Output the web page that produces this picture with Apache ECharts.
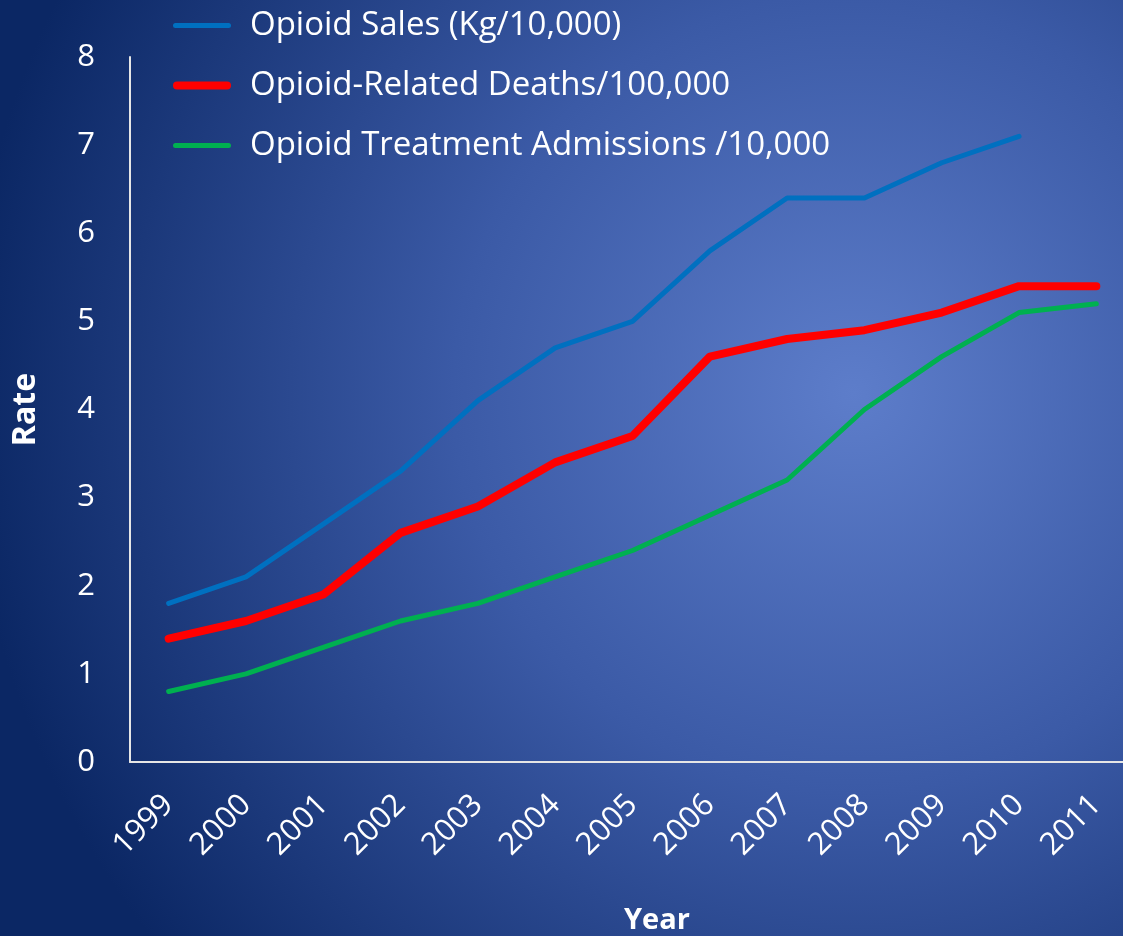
<!DOCTYPE html>
<html>
<head>
<meta charset="utf-8">
<script src="https://cdn.jsdelivr.net/npm/echarts@6/dist/echarts.min.js"></script>
<style>
html,body{margin:0;padding:0;width:1123px;height:936px;overflow:hidden;}
#chart{width:1123px;height:936px;}
</style>
</head>
<body>
<div id="chart"></div>
<script>
var years = ['1999','2000','2001','2002','2003','2004','2005','2006','2007','2008','2009','2010','2011'];
var salesName = 'Opioid Sales (Kg/10,000)';
var deathsName = 'Opioid-Related Deaths/100,000';
var admissionsName = 'Opioid Treatment Admissions /10,000';
var sales = [1.8, 2.1, 2.7, 3.3, 4.1, 4.7, 5.0, 5.8, 6.4, 6.4, 6.8, 7.1, null];
var deaths = [1.4, 1.6, 1.9, 2.6, 2.9, 3.4, 3.7, 4.6, 4.8, 4.9, 5.1, 5.4, 5.4];
var admissions = [0.8, 1.0, 1.3, 1.6, 1.8, 2.1, 2.4, 2.8, 3.2, 4.0, 4.6, 5.1, 5.2];
var yTicks = [0, 1, 2, 3, 4, 5, 6, 7, 8];

var FONT = '"Open Sans", "Noto Sans", sans-serif';
var thinIcon = 'path://M2.5,0 H55.5 A2.5,2.5 0 0 1 55.5,5 H2.5 A2.5,2.5 0 0 1 2.5,0 Z';
var thickIcon = 'path://M4,0 H54 A4,4 0 0 1 54,8 H4 A4,4 0 0 1 4,0 Z';
var chart = echarts.init(document.getElementById('chart'), null, {renderer: 'canvas'});
chart.setOption({
  backgroundColor: {
    type: 'radial', x: 0.76, y: 0.42, r: 0.95,
    colorStops: [
      {offset: 0, color: '#5d7dca'},
      {offset: 0.45, color: '#3b5aa6'},
      {offset: 1, color: '#0b2764'}
    ]
  },
  animation: false,
  textStyle: {fontFamily: FONT, color: '#ffffff'},
  title: {
    text: 'Year', left: 619, top: 901,
    textStyle: {color: '#ffffff', fontSize: 29, fontWeight: 'bold', fontFamily: FONT}
  },
  legend: {
    orient: 'vertical', left: 168, top: 4,
    itemWidth: 58, itemHeight: 10, itemGap: 27, symbolKeepAspect: true,
    textStyle: {color: '#ffffff', fontSize: 33, lineHeight: 30, fontFamily: FONT, padding: [0, 0, 0, 14]},
    data: [
      {name: salesName, icon: thinIcon, itemStyle: {color: '#0070c0'}},
      {name: deathsName, icon: thickIcon, itemStyle: {color: '#ff0000'}},
      {name: admissionsName, icon: thinIcon, itemStyle: {color: '#00b050'}}
    ]
  },
  grid: {left: 130, width: 1005, top: 57, bottom: 174, containLabel: false, outerBoundsMode: 'none'},
  xAxis: {
    type: 'category', data: years, boundaryGap: true,
    axisLine: {show: true, lineStyle: {color: '#e6e6e6', width: 2}},
    axisTick: {show: false},
    axisLabel: {color: '#ffffff', fontSize: 31, rotate: 45, margin: 38, fontFamily: FONT, interval: 0},
    splitLine: {show: false}
  },
  yAxis: {
    type: 'value', min: yTicks[0], max: yTicks[yTicks.length - 1], interval: 1,
    name: 'Rate', nameLocation: 'middle', nameGap: 88, nameRotate: 90,
    nameTextStyle: {color: '#ffffff', fontSize: 32, fontWeight: 'bold', fontFamily: FONT},
    axisLine: {show: true, lineStyle: {color: '#e6e6e6', width: 2}},
    axisTick: {show: false},
    axisLabel: {color: '#ffffff', fontSize: 31, margin: 35, fontFamily: FONT},
    splitLine: {show: false}
  },
  series: [
    {name: salesName, type: 'line', data: sales, symbol: 'none', connectNulls: false,
     lineStyle: {color: '#0070c0', width: 5, cap: 'round', join: 'round'}, itemStyle: {color: '#0070c0'}},
    {name: deathsName, type: 'line', data: deaths, symbol: 'none',
     lineStyle: {color: '#ff0000', width: 8, cap: 'round', join: 'round'}, itemStyle: {color: '#ff0000'}},
    {name: admissionsName, type: 'line', data: admissions, symbol: 'none',
     lineStyle: {color: '#00b050', width: 5, cap: 'round', join: 'round'}, itemStyle: {color: '#00b050'}}
  ]
});
</script>
</body>
</html>
